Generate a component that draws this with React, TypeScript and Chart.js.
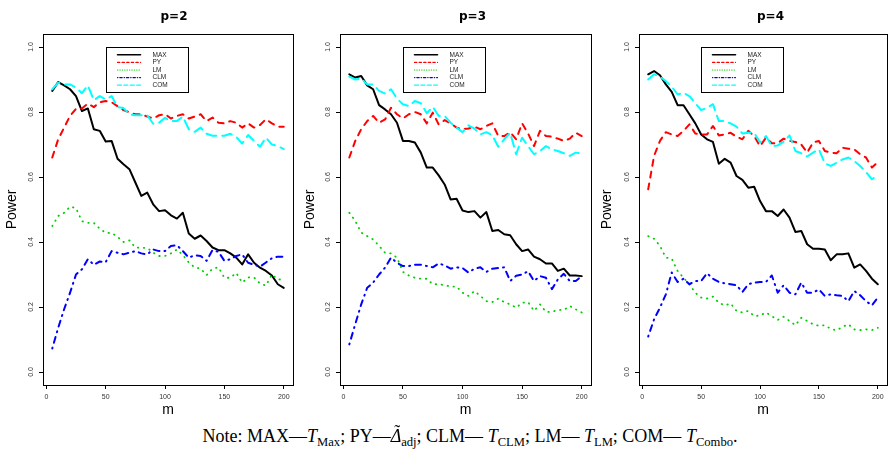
import React, { useEffect, useRef } from 'react';
import { Chart, registerables } from 'chart.js';

Chart.register(...registerables);

// ---------- data ----------
const M_VALUES = [5, 10, 15, 20, 25, 30, 35, 40, 45, 50, 55, 60, 65, 70, 75, 80, 85, 90, 95, 100,
  105, 110, 115, 120, 125, 130, 135, 140, 145, 150, 155, 160, 165, 170, 175, 180, 185, 190, 195, 200];

const PANEL_TITLES = ['p=2', 'p=3', 'p=4'];
const SERIES_NAMES = ['MAX', 'PY', 'LM', 'CLM', 'COM'];
const X_TICKS = [0, 50, 100, 150, 200];
const Y_TICKS = [0, 0.2, 0.4, 0.6, 0.8, 1.0];
const LEGEND_AT = [50, 1.0];

// p = 2
const P2_MAX = [0.865, 0.892, 0.882, 0.870, 0.849, 0.803, 0.811, 0.747, 0.742, 0.709, 0.711, 0.656, 0.639, 0.624, 0.583, 0.542, 0.552, 0.516, 0.495, 0.498,
  0.482, 0.472, 0.490, 0.426, 0.410, 0.420, 0.403, 0.383, 0.375, 0.375, 0.365, 0.352, 0.331, 0.362, 0.336, 0.321, 0.311, 0.297, 0.270, 0.259];
const P2_PY = [0.660, 0.716, 0.752, 0.788, 0.810, 0.811, 0.826, 0.815, 0.830, 0.834, 0.830, 0.818, 0.806, 0.799, 0.793, 0.793, 0.786, 0.780, 0.790, 0.793,
  0.780, 0.788, 0.793, 0.780, 0.786, 0.793, 0.772, 0.783, 0.767, 0.765, 0.772, 0.767, 0.752, 0.765, 0.752, 0.760, 0.778, 0.765, 0.755, 0.755];
const P2_LM = [0.449, 0.480, 0.490, 0.509, 0.504, 0.464, 0.459, 0.459, 0.441, 0.428, 0.428, 0.416, 0.400, 0.405, 0.383, 0.382, 0.382, 0.367, 0.357, 0.357,
  0.365, 0.377, 0.360, 0.337, 0.322, 0.318, 0.298, 0.318, 0.322, 0.290, 0.290, 0.305, 0.275, 0.291, 0.291, 0.272, 0.266, 0.300, 0.285, 0.284];
const P2_CLM = [0.072, 0.136, 0.193, 0.244, 0.300, 0.316, 0.347, 0.330, 0.340, 0.338, 0.372, 0.367, 0.362, 0.367, 0.372, 0.365, 0.362, 0.377, 0.372, 0.372,
  0.388, 0.390, 0.372, 0.352, 0.359, 0.357, 0.342, 0.375, 0.370, 0.342, 0.347, 0.357, 0.362, 0.336, 0.330, 0.324, 0.337, 0.350, 0.355, 0.355];
const P2_COM = [0.870, 0.890, 0.885, 0.885, 0.875, 0.858, 0.882, 0.836, 0.849, 0.839, 0.849, 0.815, 0.812, 0.793, 0.790, 0.790, 0.790, 0.764, 0.767, 0.782,
  0.772, 0.772, 0.786, 0.747, 0.739, 0.752, 0.733, 0.727, 0.727, 0.727, 0.733, 0.723, 0.703, 0.729, 0.711, 0.693, 0.721, 0.700, 0.695, 0.686];

// p = 3
const P3_MAX = [0.916, 0.906, 0.911, 0.882, 0.870, 0.821, 0.808, 0.793, 0.767, 0.711, 0.711, 0.706, 0.675, 0.629, 0.629, 0.605, 0.577, 0.531, 0.533, 0.497,
  0.492, 0.495, 0.475, 0.492, 0.434, 0.437, 0.424, 0.421, 0.393, 0.372, 0.377, 0.355, 0.347, 0.334, 0.334, 0.311, 0.318, 0.297, 0.297, 0.295];
const P3_PY = [0.660, 0.711, 0.747, 0.772, 0.788, 0.767, 0.777, 0.813, 0.793, 0.780, 0.793, 0.800, 0.793, 0.765, 0.798, 0.762, 0.775, 0.765, 0.752, 0.747,
  0.749, 0.755, 0.747, 0.757, 0.765, 0.726, 0.726, 0.738, 0.716, 0.765, 0.734, 0.695, 0.742, 0.726, 0.724, 0.718, 0.711, 0.718, 0.736, 0.726];
const P3_LM = [0.490, 0.465, 0.429, 0.418, 0.408, 0.388, 0.367, 0.365, 0.352, 0.308, 0.297, 0.290, 0.287, 0.287, 0.270, 0.270, 0.267, 0.263, 0.263, 0.244,
  0.234, 0.249, 0.234, 0.218, 0.215, 0.226, 0.215, 0.208, 0.198, 0.213, 0.215, 0.188, 0.208, 0.185, 0.185, 0.191, 0.191, 0.203, 0.193, 0.183];
const P3_CLM = [0.085, 0.147, 0.208, 0.259, 0.275, 0.300, 0.321, 0.352, 0.336, 0.326, 0.326, 0.330, 0.330, 0.326, 0.322, 0.334, 0.328, 0.318, 0.322, 0.320,
  0.306, 0.318, 0.322, 0.308, 0.318, 0.320, 0.322, 0.280, 0.296, 0.300, 0.310, 0.280, 0.295, 0.290, 0.255, 0.285, 0.302, 0.280, 0.280, 0.295];
const P3_COM = [0.909, 0.900, 0.903, 0.885, 0.885, 0.865, 0.857, 0.870, 0.841, 0.824, 0.818, 0.834, 0.827, 0.796, 0.816, 0.788, 0.788, 0.767, 0.752, 0.738,
  0.759, 0.749, 0.731, 0.738, 0.728, 0.693, 0.716, 0.736, 0.670, 0.721, 0.695, 0.670, 0.680, 0.695, 0.685, 0.680, 0.673, 0.665, 0.675, 0.672];

// p = 4
const P4_MAX = [0.916, 0.926, 0.913, 0.885, 0.862, 0.821, 0.821, 0.793, 0.765, 0.731, 0.716, 0.708, 0.641, 0.656, 0.644, 0.603, 0.591, 0.567, 0.570, 0.526,
  0.495, 0.495, 0.480, 0.500, 0.475, 0.431, 0.434, 0.393, 0.379, 0.379, 0.377, 0.344, 0.362, 0.362, 0.365, 0.321, 0.331, 0.311, 0.287, 0.270];
const P4_PY = [0.562, 0.665, 0.711, 0.738, 0.731, 0.726, 0.742, 0.762, 0.734, 0.731, 0.731, 0.757, 0.728, 0.731, 0.736, 0.724, 0.716, 0.742, 0.726, 0.695,
  0.721, 0.704, 0.704, 0.718, 0.711, 0.708, 0.700, 0.675, 0.706, 0.711, 0.680, 0.675, 0.673, 0.690, 0.687, 0.685, 0.670, 0.660, 0.629, 0.646];
const P4_LM = [0.418, 0.410, 0.388, 0.352, 0.349, 0.311, 0.290, 0.270, 0.244, 0.229, 0.226, 0.232, 0.213, 0.205, 0.211, 0.188, 0.183, 0.188, 0.172, 0.174,
  0.183, 0.172, 0.160, 0.170, 0.157, 0.144, 0.167, 0.157, 0.147, 0.142, 0.144, 0.133, 0.128, 0.139, 0.147, 0.131, 0.129, 0.131, 0.129, 0.136];
const P4_CLM = [0.109, 0.162, 0.198, 0.239, 0.306, 0.277, 0.287, 0.270, 0.280, 0.280, 0.304, 0.287, 0.277, 0.273, 0.270, 0.267, 0.246, 0.270, 0.275, 0.277,
  0.277, 0.297, 0.244, 0.267, 0.244, 0.239, 0.275, 0.244, 0.244, 0.254, 0.234, 0.239, 0.236, 0.234, 0.218, 0.249, 0.236, 0.218, 0.205, 0.229];
const P4_COM = [0.900, 0.916, 0.909, 0.895, 0.878, 0.854, 0.859, 0.849, 0.827, 0.806, 0.813, 0.824, 0.772, 0.772, 0.765, 0.755, 0.734, 0.736, 0.736, 0.706,
  0.726, 0.695, 0.697, 0.708, 0.728, 0.680, 0.673, 0.663, 0.675, 0.685, 0.642, 0.634, 0.644, 0.654, 0.660, 0.649, 0.634, 0.615, 0.593, 0.605];

const PANEL_SERIES = [
  [P2_MAX, P2_PY, P2_LM, P2_CLM, P2_COM],
  [P3_MAX, P3_PY, P3_LM, P3_CLM, P3_COM],
  [P4_MAX, P4_PY, P4_LM, P4_CLM, P4_COM],
];

// ---------- styles ----------
const SERIES_STYLE = [
  { color: '#000000', width: 2, dash: [] as number[], legendDash: [] as number[], legendWidth: 1.6 },
  { color: '#FF0000', width: 2, dash: [6, 6], legendDash: [2.3, 2.3], legendWidth: 1.2 },
  { color: '#00CD00', width: 1.8, dash: [0.5, 5.5], legendDash: [0.3, 2.1], legendWidth: 1.2 },
  { color: '#0000FF', width: 2, dash: [1, 5, 6, 5], legendDash: [0.4, 1.9, 2.4, 1.9], legendWidth: 1.2 },
  { color: '#00FFFF', width: 2, dash: [10, 6], legendDash: [4, 2.4], legendWidth: 1.2 },
];

const LAYOUT = [
  { left: 0, width: 348, yw: 43, y2w: 55 },
  { left: 298, width: 349, yw: 42, y2w: 56 },
  { left: 595, width: 351, yw: 44, y2w: 59 },
];
const CANVAS_H = 420;
const SANS = '"Liberation Sans", Arial, Helvetica, sans-serif';

const legendPlugin = {
  id: 'rLegend',
  afterDatasetsDraw(chart: any) {
    const { ctx, scales } = chart;
    const x0 = Math.round(scales.x.getPixelForValue(LEGEND_AT[0])) + 0.5;
    const y0 = Math.round(scales.y.getPixelForValue(LEGEND_AT[1])) + 0.5;
    const w = 82;
    const h = 45;
    ctx.save();
    ctx.fillStyle = '#ffffff';
    ctx.fillRect(x0, y0, w, h);
    ctx.strokeStyle = '#000000';
    ctx.lineWidth = 1;
    ctx.setLineDash([]);
    ctx.strokeRect(x0, y0, w, h);
    SERIES_NAMES.forEach((name, i) => {
      const st = SERIES_STYLE[i];
      const yy = y0 + 7.3 + i * 7.6;
      ctx.setLineDash(st.legendDash);
      ctx.lineCap = 'round';
      ctx.strokeStyle = st.color;
      ctx.lineWidth = st.legendWidth;
      ctx.beginPath();
      ctx.moveTo(x0 + 11, yy);
      ctx.lineTo(x0 + 34, yy);
      ctx.stroke();
      ctx.setLineDash([]);
      ctx.fillStyle = '#222222';
      ctx.font = '6.5px ' + SANS;
      ctx.textBaseline = 'middle';
      ctx.textAlign = 'left';
      ctx.fillText(name, x0 + 46, yy);
    });
    ctx.restore();
  },
};

function Panel({ idx }: { idx: number }) {
  const ref = useRef<HTMLCanvasElement | null>(null);
  const lay = LAYOUT[idx];

  useEffect(() => {
    if (!ref.current) return;
    const series = PANEL_SERIES[idx];
    const tickGrid = { display: true, drawOnChartArea: false, drawTicks: true, tickLength: 4, color: '#000', lineWidth: 1 };
    const border = { display: true, color: '#000', width: 1 };
    const chart = new Chart(ref.current, {
      type: 'line',
      data: {
        datasets: SERIES_NAMES.map((name, k) => ({
          label: name,
          data: M_VALUES.map((m, i) => ({ x: m, y: series[k][i] })),
          borderColor: SERIES_STYLE[k].color,
          backgroundColor: SERIES_STYLE[k].color,
          borderWidth: SERIES_STYLE[k].width,
          borderDash: SERIES_STYLE[k].dash,
          borderCapStyle: 'round',
          borderJoinStyle: 'round',
          pointRadius: 0,
          tension: 0,
          fill: false,
          order: 5 - k,
        })),
      },
      options: {
        animation: false,
        responsive: false,
        maintainAspectRatio: false,
        events: [],
        layout: { padding: 0 },
        plugins: {
          legend: { display: false },
          tooltip: { enabled: false },
          title: {
            display: true,
            text: PANEL_TITLES[idx],
            color: '#000',
            font: { family: '"DejaVu Sans", sans-serif', size: 12, weight: 'bold' },
            padding: { top: 10, bottom: 9.6 },
          },
        },
        scales: {
          x: {
            type: 'linear',
            position: 'bottom',
            min: -2.8,
            max: 207.8,
            afterBuildTicks: (s: any) => { s.ticks = X_TICKS.map((v) => ({ value: v })); },
            afterFit: (s: any) => { s.height = 35; },
            ticks: {
              autoSkip: false, minRotation: 0, maxRotation: 0, padding: 3.8, color: '#333',
              font: { family: SANS, size: 7 },
              callback: (v: any) => String(v),
            },
            grid: tickGrid,
            border,
            title: { display: true, text: 'm', color: '#000', font: { family: SANS, size: 14 }, padding: { top: 0, bottom: 1.6 } },
          },
          y: {
            type: 'linear',
            position: 'left',
            min: -0.04,
            max: 1.04,
            afterBuildTicks: (s: any) => { s.ticks = Y_TICKS.map((v) => ({ value: v })); },
            afterFit: (s: any) => { s.width = lay.yw; },
            ticks: {
              autoSkip: false, minRotation: 90, maxRotation: 90, crossAlign: 'center', padding: 3, color: '#333',
              font: { family: SANS, size: 7 },
              callback: (v: any) => Number(v).toFixed(1),
            },
            grid: tickGrid,
            border,
            title: { display: true, text: 'Power', color: '#000', font: { family: SANS, size: 14 }, padding: { top: 3.6, bottom: 0 } },
          },
          x2: {
            type: 'linear', position: 'top', min: -2.8, max: 207.8,
            grid: { display: false }, ticks: { display: false }, border,
            afterFit: (s: any) => { s.height = 0; },
          },
          y2: {
            type: 'linear', position: 'right', min: -0.04, max: 1.04,
            grid: { display: false }, ticks: { display: false }, border,
            afterFit: (s: any) => { s.width = lay.y2w; },
          },
        },
      } as any,
      plugins: [legendPlugin],
    });
    return () => chart.destroy();
  }, [idx]);

  return (
    <div style={{ position: 'absolute', left: lay.left, top: 0, width: lay.width, height: CANVAS_H }}>
      <canvas ref={ref} width={lay.width} height={CANVAS_H} style={{ display: 'block', width: lay.width, height: CANVAS_H }} />
    </div>
  );
}

const subStyle: React.CSSProperties = { fontSize: '0.7em', verticalAlign: '-0.3em', lineHeight: 0, fontStyle: 'normal' };

export default function App() {
  return (
    <div style={{ position: 'absolute', left: 0, top: 0, width: 888, height: 459, overflow: 'hidden', background: '#fff' }}>
      {PANEL_TITLES.map((_, i) => <Panel key={i} idx={i} />)}
      <div
        style={{
          position: 'absolute', left: 26, top: 426, width: 888, textAlign: 'center', whiteSpace: 'nowrap',
          fontFamily: '"Liberation Serif", "DejaVu Serif", serif', fontSize: 18, lineHeight: '20px', color: '#000',
        }}
      >
        Note: MAX—<i>T</i><sub style={subStyle}>Max</sub>; PY—
        <span style={{ position: 'relative', display: 'inline-block' }}>
          <i>Δ</i>
          <span style={{ position: 'absolute', left: '0.2em', top: '-0.2em', fontStyle: 'normal' }}>˜</span>
        </span>
        <sub style={subStyle}>adj</sub>; CLM— <i>T</i><sub style={subStyle}>CLM</sub>; LM— <i>T</i><sub style={subStyle}>LM</sub>; COM— <i>T</i><sub style={subStyle}>Combo</sub>.
      </div>
    </div>
  );
}
